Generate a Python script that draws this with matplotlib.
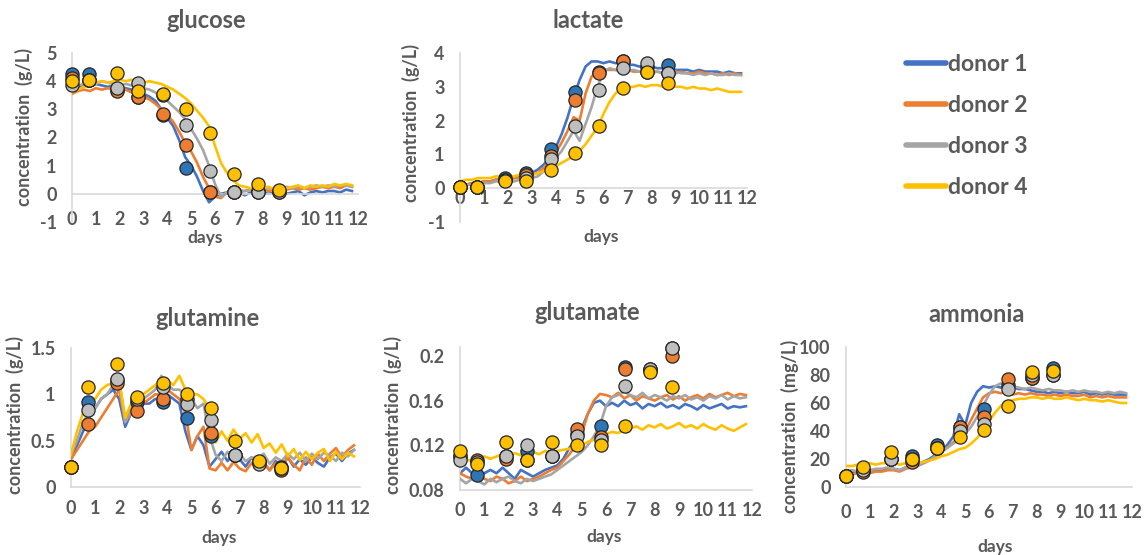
import numpy as np
import matplotlib
matplotlib.use("Agg")
import matplotlib.pyplot as plt
from matplotlib.lines import Line2D

plt.rcParams["font.family"] = ["Lato", "DejaVu Sans"]
plt.rcParams["font.weight"] = "bold"

W, H = 1145, 555
TXT = "#595959"
AXC = "#D9D9D9"

donors = ["donor 1", "donor 2", "donor 3", "donor 4"]
line_colors = ["#4472C4", "#ED7D31", "#A5A5A5", "#FFC000"]
dot_colors = ["#2E75B6", "#ED7D31", "#BFBFBF", "#FFC000"]

# online probe readings, every 0.25 day from day 0 to 11.75
t_online = np.arange(48) * 0.25
# offline sample days
t_sample = [0, 0.7, 1.9, 2.75, 3.8, 4.8, 5.8, 6.8, 7.8, 8.7]

# -------------------------
# glucose (g/L)
# -------------------------
glucose_d1 = [3.70, 3.75, 3.85, 3.80, 3.90, 3.85, 3.80, 3.85, 3.80, 3.75, 3.70, 3.60,
              3.55, 3.45, 3.30, 3.00, 2.70, 2.40, 1.90, 1.30, 1.00, 0.60, 0.10, -0.30,
              -0.10, 0.00, 0.05, 0.00, 0.05, -0.05, 0.05, 0.00, 0.05, 0.00, 0.05, 0.05,
              0.00, 0.05, 0.10, -0.05, 0.05, 0.10, 0.05, 0.10, 0.10, 0.05, 0.15, 0.10]
glucose_d2 = [3.55, 3.65, 3.70, 3.65, 3.75, 3.70, 3.75, 3.70, 3.75, 3.70, 3.60, 3.50,
              3.45, 3.35, 3.20, 3.00, 2.80, 2.55, 2.20, 1.80, 1.50, 1.10, 0.60, 0.20,
              -0.10, -0.15, 0.05, 0.10, 0.05, 0.10, 0.15, 0.10, 0.15, 0.10, 0.15, 0.10,
              0.15, 0.20, 0.15, 0.20, 0.15, 0.20, 0.25, 0.20, 0.25, 0.20, 0.30, 0.25]
glucose_d3 = [3.80, 3.85, 3.90, 3.95, 3.90, 4.00, 3.95, 3.90, 3.85, 3.90, 3.85, 3.80,
              3.75, 3.70, 3.60, 3.45, 3.30, 3.10, 2.90, 2.65, 2.30, 1.95, 1.55, 1.00,
              0.35, -0.10, 0.05, 0.10, 0.15, 0.10, 0.15, 0.10, 0.15, 0.20, 0.15, 0.20,
              0.25, 0.20, 0.25, 0.20, 0.25, 0.30, 0.25, 0.30, 0.25, 0.30, 0.30, 0.25]
glucose_d4 = [3.60, 3.70, 3.80, 3.85, 3.95, 4.00, 3.95, 4.00, 4.05, 4.00, 4.05, 4.00,
              3.95, 4.00, 3.95, 3.90, 3.80, 3.70, 3.55, 3.40, 3.20, 2.95, 2.70, 2.40,
              1.70, 1.10, 0.75, 0.50, 0.30, 0.25, 0.20, 0.25, 0.20, 0.25, 0.15, 0.25,
              0.20, 0.25, 0.30, 0.20, 0.30, 0.25, 0.30, 0.25, 0.35, 0.30, 0.35, 0.30]
glucose_s1 = [4.25, 4.25, 3.70, 3.45, 2.80, 0.90, 0.05, 0.05, 0.05, 0.05]
glucose_s2 = [4.10, 4.05, 3.65, 3.45, 2.85, 1.75, 0.05, 0.05, 0.10, 0.10]
glucose_s3 = [3.85, 4.05, 3.75, 3.95, 3.50, 2.45, 0.80, 0.05, 0.05, 0.05]
glucose_s4 = [4.00, 4.05, 4.30, 3.65, 3.55, 3.00, 2.15, 0.70, 0.35, 0.15]

# -------------------------
# lactate (g/L)
# -------------------------
lactate_d1 = [0.10, 0.10, 0.15, 0.15, 0.20, 0.20, 0.25, 0.25, 0.30, 0.30, 0.35, 0.40,
              0.45, 0.55, 0.70, 0.90, 1.20, 1.60, 2.10, 2.70, 3.20, 3.60, 3.75, 3.75,
              3.70, 3.75, 3.70, 3.70, 3.65, 3.65, 3.60, 3.60, 3.60, 3.55, 3.55, 3.55,
              3.50, 3.50, 3.50, 3.45, 3.50, 3.45, 3.45, 3.45, 3.40, 3.45, 3.40, 3.40]
lactate_d2 = [0.10, 0.10, 0.15, 0.15, 0.20, 0.20, 0.25, 0.25, 0.25, 0.30, 0.30, 0.35,
              0.40, 0.45, 0.60, 0.80, 1.05, 1.35, 1.70, 2.10, 2.00, 2.80, 3.30, 3.45,
              3.50, 3.50, 3.50, 3.45, 3.50, 3.45, 3.45, 3.50, 3.45, 3.45, 3.40, 3.45,
              3.40, 3.45, 3.40, 3.40, 3.45, 3.40, 3.40, 3.35, 3.40, 3.35, 3.40, 3.35]
lactate_d3 = [0.10, 0.10, 0.10, 0.15, 0.15, 0.15, 0.20, 0.20, 0.20, 0.20, 0.25, 0.25,
              0.30, 0.35, 0.50, 0.70, 0.90, 1.10, 1.40, 1.70, 1.40, 1.90, 2.40, 3.00,
              3.45, 3.55, 3.50, 3.50, 3.45, 3.50, 3.45, 3.45, 3.40, 3.45, 3.40, 3.40,
              3.45, 3.40, 3.40, 3.35, 3.40, 3.35, 3.40, 3.35, 3.35, 3.40, 3.35, 3.35]
lactate_d4 = [0.20, 0.25, 0.25, 0.30, 0.30, 0.30, 0.35, 0.35, 0.35, 0.35, 0.40, 0.40,
              0.40, 0.45, 0.50, 0.55, 0.65, 0.75, 0.85, 0.95, 1.10, 1.30, 1.55, 1.80,
              2.20, 2.55, 2.80, 2.95, 3.00, 3.00, 3.05, 3.00, 3.05, 3.05, 3.00, 3.05,
              3.00, 3.00, 2.95, 3.00, 2.95, 2.95, 2.90, 2.95, 2.90, 2.85, 2.85, 2.85]
lactate_s1 = [0.05, 0.05, 0.30, 0.45, 1.15, 2.85, 3.45, 3.75, 3.60, 3.65]
lactate_s2 = [0.05, 0.05, 0.25, 0.40, 0.95, 2.60, 3.40, 3.75, 3.45, 3.40]
lactate_s3 = [0.05, 0.05, 0.25, 0.30, 0.85, 1.85, 2.90, 3.55, 3.70, 3.40]
lactate_s4 = [0.05, 0.05, 0.20, 0.20, 0.55, 1.05, 1.85, 2.95, 3.45, 3.10]

# -------------------------
# glutamine (g/L)
# -------------------------
glutamine_d1 = [0.30, 0.45, 0.60, 0.75, 0.85, 0.95, 1.00, 1.05, 0.95, 0.65, 0.80, 0.85,
                0.90, 0.90, 0.95, 0.95, 1.00, 0.95, 0.90, 0.60, 0.40, 0.55, 0.45, 0.22,
                0.30, 0.38, 0.28, 0.36, 0.30, 0.22, 0.32, 0.24, 0.26, 0.18, 0.28, 0.22,
                0.32, 0.22, 0.30, 0.24, 0.32, 0.26, 0.22, 0.32, 0.36, 0.28, 0.36, 0.40]
glutamine_d2 = [0.30, 0.40, 0.50, 0.60, 0.65, 0.75, 0.85, 0.95, 1.05, 0.70, 0.80, 0.85,
                0.90, 0.95, 1.00, 1.00, 1.05, 1.00, 0.95, 0.80, 0.40, 0.55, 0.65, 0.20,
                0.18, 0.26, 0.18, 0.27, 0.20, 0.17, 0.26, 0.20, 0.27, 0.18, 0.26, 0.22,
                0.32, 0.24, 0.18, 0.32, 0.24, 0.36, 0.28, 0.36, 0.42, 0.32, 0.40, 0.45]
glutamine_d3 = [0.35, 0.50, 0.70, 0.80, 0.85, 0.95, 1.00, 1.10, 1.15, 0.70, 0.85, 0.90,
                0.95, 1.00, 1.05, 1.20, 1.10, 1.05, 1.05, 1.00, 0.95, 0.85, 0.90, 0.55,
                0.35, 0.28, 0.38, 0.30, 0.36, 0.28, 0.32, 0.30, 0.36, 0.25, 0.32, 0.28,
                0.36, 0.30, 0.37, 0.28, 0.36, 0.30, 0.37, 0.34, 0.28, 0.37, 0.33, 0.40]
glutamine_d4 = [0.35, 0.60, 0.80, 0.90, 0.95, 1.05, 1.10, 1.12, 1.15, 0.75, 0.90, 0.95,
                1.00, 1.05, 1.10, 1.15, 1.15, 1.10, 1.20, 1.05, 1.00, 1.00, 0.95, 0.85,
                0.48, 0.60, 0.50, 0.62, 0.52, 0.58, 0.48, 0.57, 0.42, 0.47, 0.37, 0.46,
                0.33, 0.41, 0.29, 0.38, 0.30, 0.37, 0.41, 0.28, 0.38, 0.30, 0.37, 0.33]
glutamine_s1 = [0.22, 0.92, 1.15, 0.92, 0.92, 0.75, 0.55, 0.35, 0.27, 0.22]
glutamine_s2 = [0.22, 0.68, 1.12, 0.82, 0.95, 0.95, 0.58, 0.35, 0.27, 0.18]
glutamine_s3 = [0.22, 0.83, 1.17, 0.95, 1.08, 0.90, 0.72, 0.35, 0.25, 0.20]
glutamine_s4 = [0.22, 1.08, 1.33, 0.97, 1.12, 1.00, 0.85, 0.50, 0.28, 0.20]

# -------------------------
# glutamate (g/L)
# -------------------------
glutamate_d1 = [0.095, 0.100, 0.095, 0.092, 0.095, 0.098, 0.095, 0.100, 0.095, 0.090, 0.098, 0.095,
                0.092, 0.095, 0.098, 0.100, 0.102, 0.108, 0.118, 0.125, 0.135, 0.148, 0.158, 0.160,
                0.155, 0.158, 0.155, 0.160, 0.156, 0.158, 0.153, 0.157, 0.155, 0.158, 0.154, 0.156,
                0.153, 0.157, 0.155, 0.152, 0.156, 0.153, 0.155, 0.157, 0.153, 0.155, 0.154, 0.155]
glutamate_d2 = [0.095, 0.092, 0.090, 0.095, 0.090, 0.088, 0.092, 0.090, 0.086, 0.088, 0.092, 0.088,
                0.090, 0.092, 0.095, 0.098, 0.100, 0.106, 0.112, 0.120, 0.130, 0.148, 0.160, 0.166,
                0.165, 0.163, 0.167, 0.162, 0.165, 0.160, 0.164, 0.162, 0.160, 0.163, 0.165, 0.161,
                0.164, 0.160, 0.163, 0.165, 0.162, 0.166, 0.163, 0.165, 0.167, 0.164, 0.166, 0.165]
glutamate_d3 = [0.090, 0.086, 0.090, 0.088, 0.085, 0.090, 0.087, 0.090, 0.092, 0.088, 0.086, 0.090,
                0.088, 0.090, 0.092, 0.094, 0.098, 0.102, 0.106, 0.110, 0.114, 0.120, 0.128, 0.138,
                0.155, 0.163, 0.165, 0.168, 0.165, 0.163, 0.167, 0.162, 0.165, 0.163, 0.160, 0.164,
                0.162, 0.165, 0.161, 0.163, 0.160, 0.164, 0.162, 0.165, 0.161, 0.164, 0.162, 0.163]
glutamate_d4 = [0.105, 0.107, 0.106, 0.108, 0.110, 0.108, 0.110, 0.112, 0.110, 0.113, 0.111, 0.112,
                0.114, 0.112, 0.115, 0.113, 0.115, 0.116, 0.117, 0.118, 0.120, 0.123, 0.125, 0.127,
                0.130, 0.132, 0.131, 0.134, 0.135, 0.137, 0.134, 0.138, 0.136, 0.139, 0.135, 0.137,
                0.140, 0.136, 0.138, 0.135, 0.139, 0.136, 0.134, 0.138, 0.135, 0.133, 0.136, 0.139]
glutamate_s1 = [0.110, 0.093, 0.110, 0.115, 0.110, 0.130, 0.137, 0.190, 0.188, 0.207]
glutamate_s2 = [0.110, 0.107, 0.108, 0.107, 0.110, 0.135, 0.127, 0.188, 0.187, 0.200]
glutamate_s3 = [0.107, 0.105, 0.110, 0.120, 0.110, 0.128, 0.125, 0.173, 0.188, 0.207]
glutamate_s4 = [0.115, 0.103, 0.123, 0.107, 0.123, 0.120, 0.120, 0.137, 0.186, 0.172]

# -------------------------
# ammonia (mg/L)
# -------------------------
ammonia_d1 = [10, 10, 11, 11, 12, 12, 12, 13, 13, 12, 14, 15,
              16, 18, 20, 23, 26, 30, 36, 52, 44, 60, 68, 72,
              71, 72, 71, 72, 71, 70, 70, 69, 68, 68, 67, 68,
              67, 68, 67, 67, 68, 66, 67, 66, 67, 66, 66, 66]
ammonia_d2 = [10, 9, 10, 10, 10, 11, 11, 12, 12, 11, 13, 14,
              15, 17, 19, 22, 25, 28, 32, 36, 40, 48, 56, 64,
              67, 68, 67, 68, 66, 67, 66, 67, 66, 66, 65, 66,
              65, 66, 65, 65, 66, 64, 65, 64, 65, 64, 64, 64]
ammonia_d3 = [12, 12, 11, 12, 12, 13, 13, 14, 13, 12, 14, 14,
              15, 17, 19, 22, 25, 28, 31, 34, 38, 43, 50, 58,
              66, 72, 74, 73, 72, 71, 70, 71, 70, 69, 70, 69,
              69, 68, 69, 68, 69, 68, 68, 67, 68, 67, 68, 67]
ammonia_d4 = [15, 15, 16, 16, 17, 16, 17, 17, 17, 16, 17, 17,
              17, 18, 19, 20, 22, 23, 25, 27, 28, 31, 35, 40,
              47, 53, 58, 61, 62, 63, 63, 64, 64, 63, 64, 63,
              63, 64, 63, 62, 63, 62, 62, 61, 62, 61, 60, 60]
ammonia_s1 = [8, 12, 20, 22, 30, 43, 56, 73, 78, 85]
ammonia_s2 = [8, 11, 20, 18, 28, 43, 50, 77, 78, 80]
ammonia_s3 = [8, 12, 20, 20, 28, 40, 45, 70, 80, 80]
ammonia_s4 = [8, 14, 25, 20, 28, 36, 41, 58, 82, 83]


def fx(px):
    return px / W


def fy(py):
    return 1 - py / H


# (title, ylabel, lines, samples, ylim, yticks, ytick labels,
#  axes box px (x0, x1, ytop, ybot), x-axis crossing, xtick pad,
#  title xy px, ylabel xy px, days xy px)
panels = [
    ("glucose", "concentration  (g/L)",
     [glucose_d1, glucose_d2, glucose_d3, glucose_d4],
     [glucose_s1, glucose_s2, glucose_s3, glucose_s4],
     (-1, 5), [-1, 0, 1, 2, 3, 4, 5], ["-1", "0", "1", "2", "3", "4", "5"],
     (72, 358, 53, 222), 0, 12.5, (206, 20), (24, 127), (205, 238)),
    ("lactate", "concentration  (g/L)",
     [lactate_d1, lactate_d2, lactate_d3, lactate_d4],
     [lactate_s1, lactate_s2, lactate_s3, lactate_s4],
     (-1, 4), [-1, 0, 1, 2, 3, 4], ["-1", "0", "1", "2", "3", "4"],
     (460, 747, 53, 222), 0, 1.5, (588, 20), (411, 123), (601, 237)),
    ("glutamine", "concentration  (g/L)",
     [glutamine_d1, glutamine_d2, glutamine_d3, glutamine_d4],
     [glutamine_s1, glutamine_s2, glutamine_s3, glutamine_s4],
     (0, 1.5), [0, 0.5, 1, 1.5], ["0", "0.5", "1", "1.5"],
     (71, 360, 348, 487), 0, 9.5, (207, 318), (15, 415), (219, 538)),
    ("glutamate", "concentration  (g/L)",
     [glutamate_d1, glutamate_d2, glutamate_d3, glutamate_d4],
     [glutamate_s1, glutamate_s2, glutamate_s3, glutamate_s4],
     (0.08, 0.208), [0.08, 0.12, 0.16, 0.2], ["0.08", "0.12", "0.16", "0.2"],
     (460, 752, 347, 490), 0.08, 8.5, (587, 313), (393, 415), (604, 537)),
    ("ammonia", "concentration  (mg/L)",
     [ammonia_d1, ammonia_d2, ammonia_d3, ammonia_d4],
     [ammonia_s1, ammonia_s2, ammonia_s3, ammonia_s4],
     (0, 100), [0, 20, 40, 60, 80, 100], ["0", "20", "40", "60", "80", "100"],
     (846, 1132, 347, 487), 0, 12.5, (977, 315), (790, 426), (995, 547)),
]

fig = plt.figure(figsize=(W / 100, H / 100), dpi=100)

for (title, ylab, lines, samples, ylim, yt, ytl, box, cross, xpad,
     tpos, ypos, dpos) in panels:
    x0, x1, ytop, ybot = box
    ax = fig.add_axes([fx(x0), fy(ybot), (x1 - x0) / W, (ybot - ytop) / H])
    for i in range(4):
        ax.plot(t_online, lines[i], color=line_colors[i], lw=1.9,
                solid_joinstyle="round", zorder=2 + i)
    for i in range(4):
        ax.plot(t_sample, samples[i], ls="none", marker="o", ms=9.5,
                mfc=dot_colors[i], mec="#262626", mew=0.9, zorder=10 + i,
                clip_on=False)
    ax.set_xlim(0, 12)
    ax.set_ylim(*ylim)
    ax.set_xticks(range(13))
    ax.set_yticks(yt)
    ax.set_yticklabels(ytl)
    for s in ["top", "right"]:
        ax.spines[s].set_visible(False)
    ax.spines["bottom"].set_position(("data", cross))
    ax.spines["bottom"].set_color(AXC)
    ax.spines["left"].set_color(AXC)
    ax.spines["bottom"].set_linewidth(1.2)
    ax.spines["left"].set_linewidth(1.2)
    ax.tick_params(axis="x", length=0, pad=xpad, labelsize=13, labelcolor=TXT)
    ax.tick_params(axis="y", length=0, pad=11, labelsize=13, labelcolor=TXT)
    ax.patch.set_visible(False)
    fig.text(fx(tpos[0]), fy(tpos[1]), title, ha="center", va="center",
             fontsize=17, color=TXT, fontweight="bold")
    fig.text(fx(ypos[0]), fy(ypos[1]), ylab, ha="center", va="center",
             rotation=90, fontsize=13, color=TXT, fontweight="bold")
    fig.text(fx(dpos[0]), fy(dpos[1]), "days", ha="center", va="center",
             fontsize=12.5, color=TXT, fontweight="bold")

handles = [Line2D([], [], color=c, lw=4, solid_capstyle="round") for c in line_colors]
leg = fig.legend(handles, donors, loc="upper left", bbox_to_anchor=(fx(906), fy(54)),
                 frameon=False, fontsize=16.5, handlelength=1.75, handletextpad=0.1,
                 labelspacing=0.87, borderaxespad=0, borderpad=0)
for txt in leg.get_texts():
    txt.set_color(TXT)
    txt.set_fontweight("bold")

fig.savefig("out.png", dpi=100)
